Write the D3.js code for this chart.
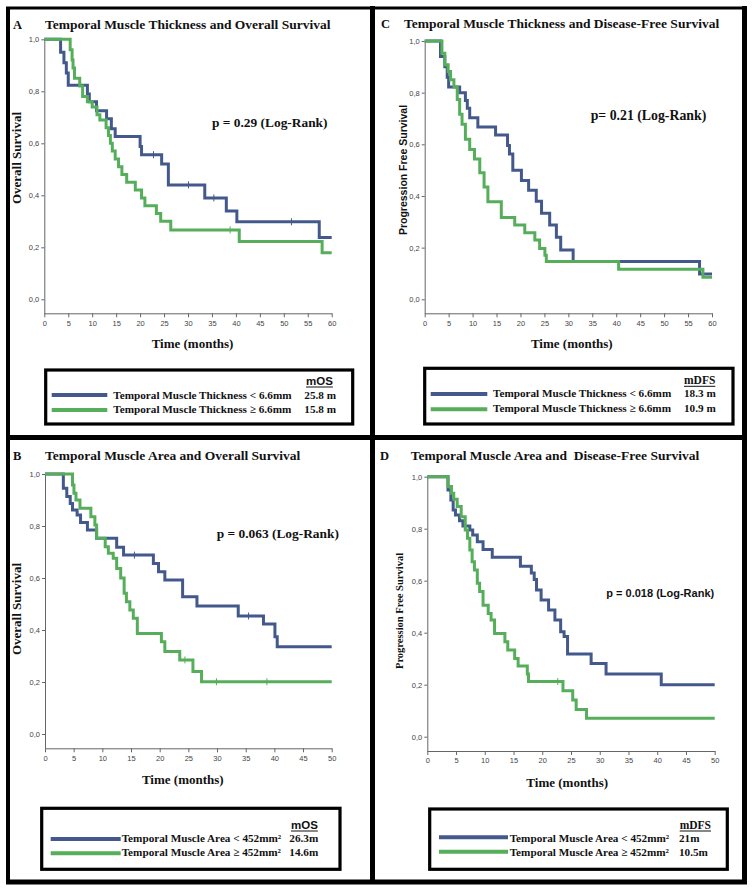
<!DOCTYPE html>
<html>
<head>
<meta charset="utf-8">
<script src="https://cdn.jsdelivr.net/npm/d3@7"></script>
<style>
body{margin:0;background:#fff;}
svg{display:block;}
.serif{font-family:"Liberation Serif","Times New Roman",serif;font-weight:bold;fill:#111;}
.sans{font-family:"Liberation Sans",Arial,sans-serif;font-weight:bold;fill:#111;}
.axis path,.axis line{stroke:#666;stroke-width:1;}
.axis text{font-family:"Liberation Sans",Arial,sans-serif;font-size:7.5px;fill:#444;}
</style>
</head>
<body>
<div id="chart"></div>
<script>
// Kaplan-Meier steps, [months, survival]
var thickOsLow = [[0,1],[3.4,0.95],[4.1,0.91],[4.6,0.87],[5.0,0.823],[9.0,0.79],[9.4,0.76],[10.9,0.725],[13,0.694],[14,0.656],[14.8,0.626],[20,0.588],[20.3,0.556],[24.5,0.52],[25.9,0.44],[33.5,0.39],[38,0.34],[40.2,0.298],[57.4,0.238]];
var thickOsHigh = [[0,1],[5.4,0.96],[5.8,0.92],[6.0,0.89],[6.3,0.85],[7.4,0.82],[8,0.78],[9,0.76],[10,0.74],[11,0.71],[11.6,0.69],[12.9,0.66],[13.4,0.63],[13.8,0.60],[14.2,0.57],[14.8,0.54],[15.5,0.51],[16.2,0.48],[17.2,0.45],[19,0.42],[20.3,0.39],[21,0.36],[23.4,0.33],[24.3,0.30],[26.4,0.267],[40.7,0.222],[58,0.179]];
var thickDfsLow = [[0,1],[3.3,0.94],[4.2,0.90],[4.7,0.86],[5.0,0.822],[7.3,0.80],[8.5,0.77],[8.9,0.74],[9.4,0.703],[11.1,0.667],[14.8,0.636],[17.3,0.595],[17.7,0.563],[18.4,0.50],[20.2,0.46],[21.7,0.422],[23.3,0.38],[24.4,0.333],[26.1,0.288],[27.5,0.24],[28.4,0.191],[31,0.146],[57.4,0.098]];
var thickDfsHigh = [[0,1],[3.6,0.953],[4.2,0.908],[4.9,0.882],[5.4,0.85],[6.1,0.822],[6.8,0.774],[7.3,0.716],[7.8,0.678],[8.5,0.62],[9.4,0.58],[10.4,0.543],[11.5,0.49],[12.4,0.435],[13.2,0.378],[16,0.317],[18.8,0.288],[20.9,0.258],[23,0.23],[24,0.197],[25.1,0.171],[25.4,0.146],[40.5,0.116],[58.1,0.085]];
var areaOsLow = [[0,1],[3.2,0.945],[3.8,0.913],[4.4,0.887],[4.8,0.862],[5.6,0.842],[6.2,0.813],[7.4,0.785],[9,0.753],[12.5,0.718],[13.7,0.688],[18.9,0.656],[19.8,0.624],[20.9,0.592],[24,0.528],[26.5,0.492],[33.7,0.454],[38.1,0.423],[40.1,0.374],[40.5,0.336]];
var areaOsHigh = [[0,1],[4.8,0.958],[5.05,0.926],[5.4,0.9],[6.1,0.868],[8,0.836],[8.7,0.804],[9,0.753],[10.5,0.72],[11.05,0.695],[11.9,0.676],[12.5,0.637],[13.2,0.6],[13.8,0.541],[14.2,0.509],[14.8,0.477],[15.4,0.445],[16.1,0.387],[20.3,0.355],[20.9,0.317],[23.5,0.285],[25.8,0.24],[27.3,0.201]];
var areaDfsLow = [[0,1],[3.6,0.949],[4.1,0.91],[4.5,0.872],[4.9,0.853],[5.6,0.831],[6.2,0.81],[7.4,0.795],[7.9,0.776],[8.7,0.75],[9.7,0.72],[11.3,0.69],[16.2,0.656],[18.1,0.63],[18.6,0.605],[19.0,0.564],[19.8,0.526],[21.1,0.487],[22.2,0.449],[23.2,0.404],[23.8,0.385],[24.4,0.318],[28.5,0.282],[31.1,0.241],[40.7,0.2]];
var areaDfsHigh = [[0,1],[3.6,0.962],[4.2,0.936],[4.6,0.913],[5.2,0.885],[5.9,0.846],[6.6,0.795],[7.0,0.763],[7.4,0.718],[7.8,0.673],[8.2,0.641],[8.7,0.59],[9.1,0.558],[9.7,0.506],[10.6,0.474],[11.1,0.449],[11.7,0.397],[13.5,0.365],[14.0,0.333],[15.2,0.301],[15.8,0.272],[17.4,0.241],[17.6,0.212],[23.6,0.177],[25.3,0.141],[25.9,0.105],[27.7,0.071]];

// censored cases (months)
var thickOsLowCens = [22.8, 30.1, 35.4, 51.6];
var thickOsHighCens = [38.8];
var areaOsLowCens = [15.6, 35.5];
var areaOsHighCens = [24.4, 29.9, 38.7];
var areaDfsHighCens = [22.7];

var yTicks = [0, 0.2, 0.4, 0.6, 0.8, 1.0];
var thickLabels = ['Temporal Muscle Thickness < 6.6mm', 'Temporal Muscle Thickness \u2265 6.6mm'];
var areaLabels = ['Temporal Muscle Area < 452mm\u00b2', 'Temporal Muscle Area \u2265 452mm\u00b2'];
var thickOsMedian = ['25.8 m', '15.8 m'];
var thickDfsMedian = ['18.3 m', '10.9 m'];
var areaOsMedian = ['26.3m', '14.6m'];
var areaDfsMedian = ['21m', '10.5m'];

var BLUE = '#44598b', GREEN = '#56ae5b';

var panels = [
	{
		letter : 'A', letterX : 13, title : 'Temporal Muscle Thickness and Overall Survival', titleX : 45, titleY : 29,
		xmax : 60, x0 : 44.3, x1 : 331.7, yTop : 39.3, yZero : 299.3, axisY : 313.3,
		ylabel : 'Overall Survival', ylabelCls : 'serif', ylabelSize : 13, ylabelX : 20.5, ylabelY : 158,
		p : 'p = 0.29 (Log-Rank)', pCls : 'serif', pSize : 13.4, pX : 212, pY : 127,
		timeX : 192.5, timeY : 348.3,
		low : thickOsLow, high : thickOsHigh, lowCens : thickOsLowCens, highCens : thickOsHighCens,
		box : [45.7, 370, 307, 54], head : 'mOS', headCls : 'sans', headX : 306, headY : 385,
		lineX : [51.7, 107.3], lineY : [395, 410], textX : 113.3, textY : [399.3, 413.3], valX : 304.3,
		labels : thickLabels, medians : thickOsMedian
	},
	{
		letter : 'C', letterX : 381, title : 'Temporal Muscle Thickness and Disease-Free Survival', titleX : 404, titleY : 28,
		xmax : 60, x0 : 424.7, x1 : 712, yTop : 41, yZero : 299.3, axisY : 313.3,
		ylabel : 'Progression Free Survival', ylabelCls : 'sans', ylabelSize : 10.5, ylabelX : 407, ylabelY : 170,
		p : 'p= 0.21 (Log-Rank)', pCls : 'serif', pSize : 13.8, pX : 590.7, pY : 120,
		timeX : 571.8, timeY : 348.3,
		low : thickDfsLow, high : thickDfsHigh, lowCens : [], highCens : [],
		box : [424.7, 368.3, 308.3, 55.7], head : 'mDFS', headCls : 'serif', headX : 684, headY : 384.3,
		lineX : [430.7, 487.3], lineY : [394, 409.3], textX : 493, textY : [397.3, 411.7], valX : 684,
		labels : thickLabels, medians : thickDfsMedian
	},
	{
		letter : 'B', letterX : 13, title : 'Temporal Muscle Area and Overall Survival', titleX : 45, titleY : 460,
		xmax : 50, x0 : 45, x1 : 331.7, yTop : 474, yZero : 734, axisY : 748.3,
		ylabel : 'Overall Survival', ylabelCls : 'serif', ylabelSize : 13, ylabelX : 20.5, ylabelY : 609,
		p : 'p = 0.063 (Log-Rank)', pCls : 'serif', pSize : 13.4, pX : 216.7, pY : 538.3,
		timeX : 182.8, timeY : 784,
		low : areaOsLow, high : areaOsHigh, lowCens : areaOsLowCens, highCens : areaOsHighCens,
		box : [41.7, 808.3, 298.3, 61], head : 'mOS', headCls : 'sans', headX : 291, headY : 829,
		lineX : [50.7, 120.7], lineY : [839, 853.3], textX : 121.7, textY : [842.3, 855.7], valX : 289.3,
		labels : areaLabels, medians : areaOsMedian
	},
	{
		letter : 'D', letterX : 380, title : 'Temporal Muscle Area and  Disease-Free Survival', titleX : 410.7, titleY : 460,
		xmax : 50, x0 : 427.3, x1 : 714.7, yTop : 476.7, yZero : 736.7, axisY : 751,
		ylabel : 'Progression Free Survival', ylabelCls : 'serif', ylabelSize : 10.5, ylabelX : 403, ylabelY : 611,
		p : 'p = 0.018 (Log-Rank)', pCls : 'sans', pSize : 11, pX : 606.3, pY : 596.7,
		timeX : 567.2, timeY : 786.7,
		low : areaDfsLow, high : areaDfsHigh, lowCens : [], highCens : areaDfsHighCens,
		box : [429.7, 809, 297.6, 60.3], head : 'mDFS', headCls : 'serif', headX : 679.7, headY : 829,
		lineX : [439, 508], lineY : [837.3, 851.7], textX : 509.7, textY : [842.3, 855.7], valX : 679,
		labels : areaLabels, medians : areaDfsMedian
	}
];

var svg = d3.select('#chart').append('svg').attr('width', 756).attr('height', 894);
svg.append('rect').attr('width', 756).attr('height', 894).attr('fill', '#fff');

// outer frame and dividers
var frame = [
	[8, 7, 8, 884, 4], [6, 8, 747, 8, 3], [744.5, 6, 744.5, 884, 5],
	[6, 882, 747, 882, 5], [372.5, 6, 372.5, 884, 5], [6, 437.5, 747, 437.5, 5]
];
svg.selectAll('line.frame').data(frame).enter().append('line')
	.attr('class', 'frame')
	.attr('x1', function(d){ return d[0]; }).attr('y1', function(d){ return d[1]; })
	.attr('x2', function(d){ return d[2]; }).attr('y2', function(d){ return d[3]; })
	.attr('stroke', '#000').attr('stroke-width', function(d){ return d[4]; });

function stepValue(data, t){
	var v = 1;
	for(var i in data){
		if(data[i][0] <= t) v = data[i][1];
	}
	return v;
}

function drawPanel(p){
	var g = svg.append('g');
	var bottom = (p.yZero - p.axisY) / (p.yZero - p.yTop);
	var x = d3.scaleLinear().domain([0, p.xmax]).range([p.x0, p.x1]);
	var y = d3.scaleLinear().domain([bottom, 1]).range([p.axisY, p.yTop]);

	g.append('g').attr('class', 'axis')
		.attr('transform', 'translate(0,' + p.axisY + ')')
		.call(d3.axisBottom(x).tickValues(d3.range(0, p.xmax + 1, 5)).tickSize(4).tickSizeOuter(0).tickPadding(3));

	g.append('g').attr('class', 'axis')
		.attr('transform', 'translate(' + p.x0 + ',0)')
		.call(d3.axisLeft(y).tickValues(yTicks).tickSize(3).tickSizeOuter(0).tickPadding(2)
			.tickFormat(function(d){ return d.toFixed(1).replace('.', ','); }));

	var line = d3.line()
		.x(function(d){ return x(d[0]); })
		.y(function(d){ return y(d[1]); })
		.curve(d3.curveStepAfter);

	var curves = [
		{ data : p.low, cens : p.lowCens, color : BLUE },
		{ data : p.high, cens : p.highCens, color : GREEN }
	];
	curves.forEach(function(c){
		var pts = c.data.concat([[p.xmax, c.data[c.data.length - 1][1]]]);
		g.append('path').datum(pts)
			.attr('d', line)
			.attr('fill', 'none')
			.attr('stroke', c.color)
			.attr('stroke-width', 3);
		g.selectAll(null).data(c.cens).enter().append('line')
			.attr('x1', function(d){ return x(d); }).attr('x2', function(d){ return x(d); })
			.attr('y1', function(d){ return y(stepValue(c.data, d)) - 3.5; })
			.attr('y2', function(d){ return y(stepValue(c.data, d)) + 3.5; })
			.attr('stroke', c.color).attr('stroke-width', 1);
	});

	// titles and labels
	g.append('text').attr('class', 'serif').attr('x', p.letterX).attr('y', p.titleY)
		.style('font-size', '12.5px').text(p.letter);
	g.append('text').attr('class', 'serif').attr('x', p.titleX).attr('y', p.titleY)
		.style('font-size', '13.5px').style('white-space', 'pre').text(p.title);
	g.append('text').attr('class', p.pCls).attr('x', p.pX).attr('y', p.pY)
		.style('font-size', p.pSize + 'px').text(p.p);
	g.append('text').attr('class', 'serif').attr('x', p.timeX).attr('y', p.timeY)
		.attr('text-anchor', 'middle').style('font-size', '13px').text('Time (months)');
	g.append('text').attr('class', p.ylabelCls)
		.attr('transform', 'translate(' + p.ylabelX + ',' + p.ylabelY + ') rotate(-90)')
		.attr('text-anchor', 'middle').style('font-size', p.ylabelSize + 'px').text(p.ylabel);

	// legend
	var b = p.box;
	g.append('rect').attr('x', b[0]).attr('y', b[1]).attr('width', b[2]).attr('height', b[3])
		.attr('fill', '#fff').attr('stroke', '#000').attr('stroke-width', 3.2);
	var head = g.append('text').attr('class', p.headCls).attr('x', p.headX).attr('y', p.headY)
		.style('font-size', '11.5px').text(p.head);
	var hw = head.node().getComputedTextLength();
	g.append('line').attr('x1', p.headX).attr('x2', p.headX + hw)
		.attr('y1', p.headY + 2).attr('y2', p.headY + 2).attr('stroke', '#111').attr('stroke-width', 1);
	[BLUE, GREEN].forEach(function(col, i){
		g.append('line').attr('x1', p.lineX[0]).attr('x2', p.lineX[1])
			.attr('y1', p.lineY[i]).attr('y2', p.lineY[i])
			.attr('stroke', col).attr('stroke-width', 4);
		g.append('text').attr('class', 'serif').attr('x', p.textX).attr('y', p.textY[i])
			.style('font-size', '11.2px').text(p.labels[i]);
		g.append('text').attr('class', 'serif').attr('x', p.valX).attr('y', p.textY[i])
			.style('font-size', '11.2px').text(p.medians[i]);
	});
}

panels.forEach(drawPanel);
</script>
</body>
</html>
